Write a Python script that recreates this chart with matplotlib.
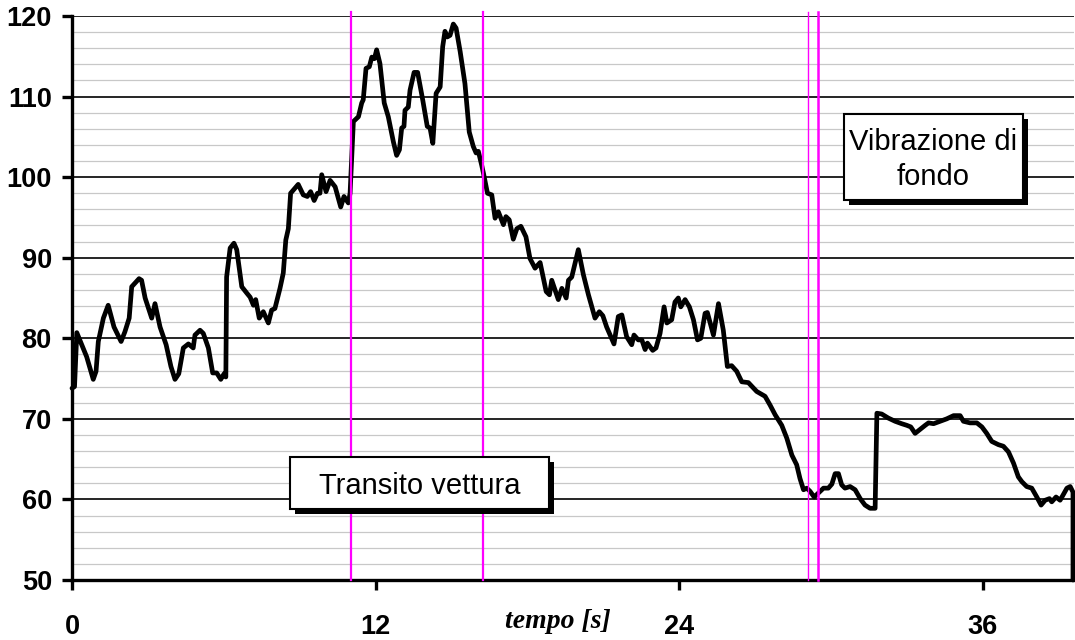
import matplotlib
matplotlib.use("Agg")
import matplotlib.pyplot as plt
from matplotlib.patches import Rectangle

plt.rcParams['font.family'] = ['Liberation Sans', 'DejaVu Sans']
plt.rcParams['path.simplify'] = False

# tempo [s] / livello misurato
t = [0.00, 0.10, 0.19, 0.58, 0.84, 0.95, 1.04, 1.24, 1.43, 1.66, 1.94, 2.09, 2.26, 2.36,
     2.65, 2.75, 2.89, 3.15, 3.28, 3.48, 3.72, 3.91, 4.07, 4.22, 4.40, 4.60, 4.79, 4.86,
     5.06, 5.19, 5.39, 5.56, 5.72, 5.88, 6.01, 6.08, 6.11, 6.25, 6.40, 6.51, 6.71, 6.91,
     7.04, 7.17, 7.26, 7.40, 7.56, 7.76, 7.89, 8.02, 8.22, 8.35, 8.45, 8.55, 8.64, 8.94,
     9.14, 9.30, 9.43, 9.57, 9.70, 9.80, 9.87, 10.04, 10.20, 10.40, 10.62, 10.75, 10.92,
     10.99, 11.12, 11.32, 11.45, 11.51, 11.62, 11.75, 11.85, 11.95, 12.04, 12.17, 12.34,
     12.50, 12.70, 12.83, 12.94, 13.03, 13.12, 13.16, 13.29, 13.36, 13.52, 13.66, 13.86,
     14.04, 14.15, 14.26, 14.39, 14.55, 14.65, 14.74, 14.83, 14.94, 15.07, 15.18, 15.34,
     15.53, 15.70, 15.86, 15.97, 16.06, 16.19, 16.26, 16.42, 16.59, 16.72, 16.85, 17.05,
     17.15, 17.28, 17.44, 17.58, 17.74, 17.94, 18.10, 18.30, 18.50, 18.74, 18.87, 18.96,
     19.22, 19.36, 19.53, 19.62, 19.75, 20.01, 20.21, 20.41, 20.67, 20.84, 20.98, 21.13,
     21.42, 21.59, 21.73, 21.92, 22.12, 22.21, 22.38, 22.52, 22.65, 22.74, 22.95, 23.08,
     23.24, 23.40, 23.51, 23.70, 23.83, 23.96, 24.06, 24.23, 24.40, 24.56, 24.72, 24.85,
     25.02, 25.11, 25.35, 25.55, 25.74, 25.90, 26.07, 26.27, 26.47, 26.73, 27.06, 27.39,
     27.59, 27.79, 28.05, 28.25, 28.45, 28.64, 28.77, 28.91, 29.04, 29.17, 29.33, 29.50,
     29.70, 29.89, 30.03, 30.16, 30.29, 30.42, 30.55, 30.75, 30.95, 31.15, 31.34, 31.54,
     31.74, 31.81, 32.00, 32.26, 32.53, 32.79, 32.99, 33.15, 33.32, 33.52, 33.72, 33.85,
     34.05, 34.31, 34.57, 34.84, 35.10, 35.23, 35.49, 35.76, 35.96, 36.15, 36.35, 36.61,
     36.81, 37.01, 37.21, 37.40, 37.54, 37.73, 37.93, 38.13, 38.30, 38.46, 38.63, 38.72,
     38.89, 39.05, 39.16, 39.32, 39.45, 39.56, 39.56]
livello = [73.8, 74.0, 80.7, 77.7, 74.9, 75.9, 79.6, 82.5, 84.1, 81.4, 79.6, 80.8, 82.5, 86.4,
           87.4, 87.2, 85.0, 82.5, 84.3, 81.4, 79.2, 76.5, 74.9, 75.6, 78.8, 79.3, 78.8, 80.4,
           81.0, 80.6, 78.8, 75.7, 75.7, 74.9, 75.6, 75.2, 87.6, 91.2, 91.8, 91.0, 86.4, 85.6,
           85.1, 84.1, 84.8, 82.5, 83.3, 81.9, 83.5, 83.7, 86.2, 88.1, 92.2, 93.6, 98.0, 99.1,
           97.8, 97.6, 98.2, 97.1, 98.0, 98.0, 100.3, 98.2, 99.6, 98.8, 96.3, 97.6, 96.8,
           98.0, 106.9, 107.5, 109.2, 109.6, 113.5, 113.7, 114.9, 114.7, 115.8, 114.1, 109.2,
           107.5, 104.4, 102.7, 103.4, 106.1, 106.3, 108.3, 108.7, 110.8, 113.0, 113.0, 109.6,
           106.3, 106.1, 104.2, 110.4, 111.2, 116.2, 118.1, 117.4, 117.6, 119.0, 118.5, 115.6,
           111.6, 105.6, 103.8, 103.0, 103.2, 101.5, 100.5, 98.0, 97.8, 94.9, 95.7, 94.1,
           95.1, 94.7, 92.3, 93.6, 93.9, 92.6, 89.9, 88.7, 89.4, 85.8, 85.4, 87.2,
           84.8, 86.2, 85.0, 87.2, 87.6, 91.0, 87.9, 85.4, 82.5, 83.3, 82.8, 81.4,
           79.3, 82.7, 82.9, 80.2, 79.2, 80.4, 79.8, 79.8, 78.6, 79.4, 78.5, 78.8,
           80.6, 83.9, 81.9, 82.3, 84.5, 85.0, 83.9, 84.8, 83.9, 82.3, 79.8, 80.0,
           83.1, 83.2, 80.4, 84.3, 81.0, 76.5, 76.6, 75.9, 74.6, 74.5, 73.4, 72.8,
           71.7, 70.5, 69.2, 67.6, 65.5, 64.3, 62.6, 61.2, 61.4, 61.0, 60.3, 60.8,
           61.4, 61.4, 61.9, 63.2, 63.2, 61.8, 61.4, 61.6, 61.2, 60.1, 59.3, 58.9,
           58.9, 70.7, 70.6, 70.1, 69.7, 69.4, 69.2, 69.0, 68.2, 68.7, 69.2, 69.5,
           69.4, 69.7, 70.0, 70.4, 70.4, 69.7, 69.5, 69.5, 69.0, 68.2, 67.2, 66.8,
           66.6, 65.9, 64.5, 62.8, 62.2, 61.6, 61.4, 60.3, 59.3, 59.9, 60.1, 59.7,
           60.3, 59.9, 60.5, 61.4, 61.6, 60.9, 50.0]

# limiti delle fasi (s)
limiti_transito = [11.03, 16.25]
limiti_fondo = [29.10, 29.50]

x_ticks = [0, 12, 24, 36]

W, H = 1075, 640
fig = plt.figure(figsize=(W / 100, H / 100), dpi=100)
ax = fig.add_axes([72 / W, 60 / H, 1002 / W, 564 / H])
ax.set_xlim(0, 39.6)
ax.set_ylim(50, 120)

ax.set_yticks(range(50, 121, 10))
ax.set_yticks(range(50, 121, 2), minor=True)
ax.set_xticks(x_ticks)
ax.grid(which='minor', axis='y', color='#c8c8c8', lw=0.9, zorder=0)
ax.grid(which='major', axis='y', color='black', lw=1.2, zorder=1)
ax.set_axisbelow(True)

for s in ['top', 'right']:
    ax.spines[s].set_visible(False)
for s in ['left', 'bottom']:
    ax.spines[s].set_linewidth(2.4)
ax.tick_params(axis='y', which='minor', length=0)
ax.tick_params(axis='y', which='major', length=7.5, width=2.4, pad=7, labelsize=19.5)
ax.tick_params(axis='x', length=7.5, width=2.4, pad=17, labelsize=19.5)
for lbl in ax.get_xticklabels() + ax.get_yticklabels():
    lbl.set_fontweight('bold')

ax.plot(t, livello, color='black', lw=3.4, solid_joinstyle='round',
        solid_capstyle='round', zorder=3, clip_on=False)

for x, w in zip(limiti_transito + limiti_fondo, [1.6, 1.6, 1.0, 1.8]):
    ax.axvline(x, ymin=0, ymax=1.007, color='#ff00ff', lw=w, zorder=4, clip_on=False)

fig.text(558 / W, 1 - 622 / H, 'tempo [s]', family='Liberation Serif', style='italic',
         weight='bold', size=20, ha='center', va='center')


def label_box(x0, y0, x1, y1, text):
    # box in figure pixels (origin top-left) with a drop shadow
    sh = 5
    fig.patches.append(Rectangle(((x0 + sh) / W, 1 - (y1 + sh) / H), (x1 - x0) / W,
                                 (y1 - y0) / H, transform=fig.transFigure,
                                 facecolor='black', edgecolor='none', zorder=5))
    fig.patches.append(Rectangle((x0 / W, 1 - y1 / H), (x1 - x0) / W, (y1 - y0) / H,
                                 transform=fig.transFigure, facecolor='white',
                                 edgecolor='black', lw=1.5, zorder=6))
    fig.text((x0 + x1) / 2 / W, 1 - (y0 + y1) / 2 / H - 0.004, text, ha='center',
             va='center', size=21, linespacing=1.3, zorder=7)


label_box(290, 457, 549, 509, 'Transito vettura')
label_box(844, 114, 1023, 200, 'Vibrazione di\nfondo')

fig.savefig('out.png', dpi=100)
